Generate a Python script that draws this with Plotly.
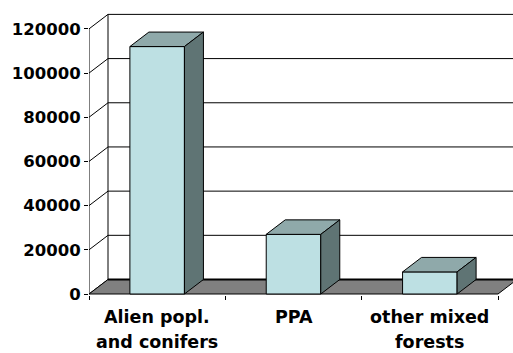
import plotly.graph_objects as go

# Chart data
categories = ["Alien popl.<br>and conifers", "PPA", "other mixed<br>forests"]
values = [112000, 27000, 10000]
y_ticks = [0, 20000, 40000, 60000, 80000, 100000, 120000]

# Figure geometry
W, H = 513, 353
M_L, M_R, M_T, M_B = 89, 0, 11, 58
X_RANGE = [-0.5, 2.61]
Y_RANGE = [-450, 128100]
BAR_W = 0.4            # bar width as a fraction of a category slot
DEPTH_PX = (19, 14.5)  # oblique depth offset of the 3-D box, in pixels
LINE_GAP = 25          # spacing between lines of a category label, px

px_x = (W - M_L - M_R) / (X_RANGE[1] - X_RANGE[0])
px_y = (H - M_T - M_B) / (Y_RANGE[1] - Y_RANGE[0])
DX = DEPTH_PX[0] / px_x
DY = DEPTH_PX[1] / px_y

FRONT = "#BDE0E3"
TOP = "#8FA9AA"
SIDE = "#5F7474"
FLOOR = "#808080"
FONT = "DejaVu Sans"

x_left = X_RANGE[0]
x_right = len(categories) - 0.5
y_top = y_ticks[-1]

fig = go.Figure()


def face(xs, ys, color):
    fig.add_trace(go.Scatter(
        x=xs + [xs[0]], y=ys + [ys[0]], mode="lines", fill="toself",
        fillcolor=color, line=dict(color="black", width=1),
        hoverinfo="skip", showlegend=False,
    ))


# Floor of the 3-D box, with a heavier back edge
face([x_left, x_right, x_right + DX, x_left + DX], [0, 0, DY, DY], FLOOR)
fig.add_trace(go.Scatter(
    x=[x_left + DX, X_RANGE[1] + 1], y=[DY, DY], mode="lines",
    line=dict(color="black", width=2), hoverinfo="skip", showlegend=False,
))

# Bars: front, top and right side faces
for i, v in enumerate(values):
    x0, x1 = i - BAR_W / 2, i + BAR_W / 2
    face([x0, x1, x1, x0], [0, 0, v, v], FRONT)
    face([x0, x1, x1 + DX, x0 + DX], [v, v, v + DY, v + DY], TOP)
    face([x1, x1 + DX, x1 + DX, x1], [0, DY, v + DY, v], SIDE)

shapes = []
line = dict(color="black", width=1)
# Back wall gridlines and left wall diagonals
for v in y_ticks:
    if v > 0:
        shapes.append(dict(type="line", xref="x", yref="y", x0=x_left + DX, x1=X_RANGE[1] + 1,
                           y0=v + DY, y1=v + DY, line=line, layer="below"))
    shapes.append(dict(type="line", xref="x", yref="y", x0=x_left, x1=x_left + DX,
                       y0=v, y1=v + DY, line=line, layer="below"))
# Back wall left edge and front value axis
shapes.append(dict(type="line", xref="x", yref="y", x0=x_left + DX, x1=x_left + DX,
                   y0=DY, y1=y_top + DY, line=line, layer="below"))
shapes.append(dict(type="line", xref="x", yref="y", x0=x_left, x1=x_left,
                   y0=0, y1=y_top, line=line, layer="below"))

# Category labels, one annotation per text line
annotations = []
for i, c in enumerate(categories):
    for k, part in enumerate(c.split("<br>")):
        annotations.append(dict(
            x=i, y=Y_RANGE[0], xref="x", yref="y", text=part, showarrow=False,
            yanchor="top", xanchor="center", yshift=-10 - k * LINE_GAP,
            font=dict(family=FONT, size=17.5, color="black", weight="bold"),
        ))

fig.update_layout(
    width=W, height=H,
    margin=dict(l=M_L, r=M_R, t=M_T, b=M_B, pad=0),
    paper_bgcolor="white", plot_bgcolor="white",
    shapes=shapes, annotations=annotations,
    xaxis=dict(range=X_RANGE, showgrid=False, zeroline=False, showline=False,
               tickmode="array", tickvals=[k - 0.5 for k in range(len(categories) + 1)],
               ticktext=["" for _ in range(len(categories) + 1)],
               ticks="outside", ticklen=4, tickcolor="black", fixedrange=True),
    yaxis=dict(range=Y_RANGE, showgrid=False, zeroline=False, showline=False,
               tickmode="array", tickvals=y_ticks, ticktext=[str(t) for t in y_ticks],
               ticks="outside", ticklen=4, tickcolor="black",
               tickfont=dict(family=FONT, size=16.5, color="black", weight="bold"),
               fixedrange=True),
)

fig.write_html("out.html")
